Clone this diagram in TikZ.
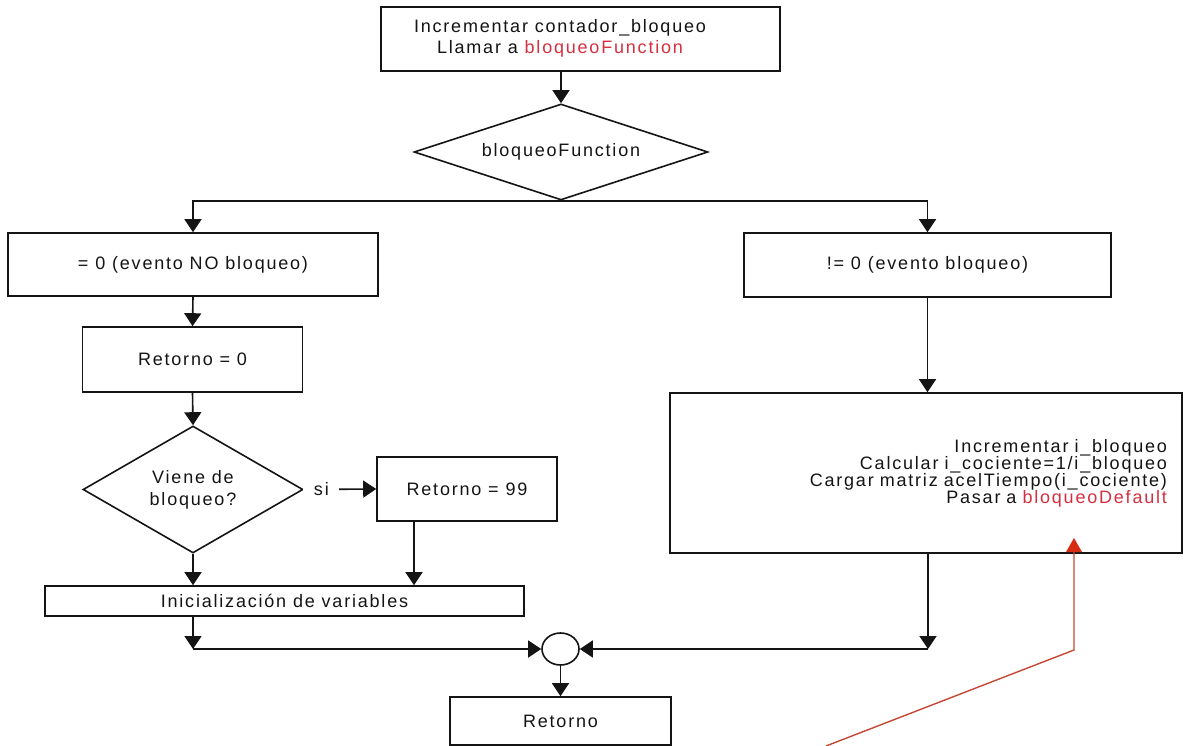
\documentclass[tikz,border=0pt]{standalone}
\usepackage{fontspec}
\setmainfont{Liberation Sans}[LetterSpace=10]
\usetikzlibrary{shapes.geometric,arrows.meta}
\definecolor{ink}{RGB}{20,20,20}
\definecolor{fnred}{RGB}{214,48,64}
\definecolor{notered}{RGB}{196,72,52}
\definecolor{notetip}{RGB}{214,44,20}
\begin{document}
\begin{tikzpicture}[x=1pt,y=-1pt,
  every node/.style={font=\fontsize{18}{18}\selectfont, text=ink},
  box/.style={draw=ink, line width=1.6pt, rectangle, inner sep=0pt, fill=white},
  dia/.style={draw=ink, line width=1.6pt, diamond, inner sep=0pt, align=center},
  arr/.style={draw=ink, line width=1.6pt, -{Triangle[length=13pt,width=17pt]}},
  txt/.style={align=center, inner sep=0pt},
  fn/.style={text=fnred}]
\useasboundingbox (0,0) rectangle (1184,746);

% top process box and its caption
\node[box, minimum width=399, minimum height=64] (top) at (580.5,39) {};
\node[txt, font=\fontsize{18}{21}\selectfont] (toptxt) at (560,38)
  {Incrementar contador\_bloqueo\\Llamar a \textcolor{fnred}{bloqueoFunction}};

% first decision
\node[dia, minimum width=294, minimum height=96, aspect=3] (d1) at (561,152) {bloqueoFunction};

% the two outcomes
\node[box, minimum width=370, minimum height=63] (b0) at (193,264.5) {= 0 (evento NO bloqueo)};
\node[box, minimum width=367, minimum height=64] (b1) at (927.5,265) {!= 0 (evento bloqueo)};

% left branch
\node[box, minimum width=220, minimum height=65] (r0) at (192.5,359.5) {Retorno = 0};
\node[dia, minimum width=220, minimum height=127, aspect=1.7,
      font=\fontsize{18}{22}\selectfont] (d2) at (193,489.5) {Viene de\\bloqueo?};
\node[box, minimum width=180, minimum height=64] (r99) at (467,489) {Retorno = 99};
\node[box, minimum width=479, minimum height=30] (ini) at (284.5,601) {Inicialización de variables};

% right branch
\node[box, minimum width=512, minimum height=160, text width=482, align=right,
      inner xsep=15pt, font=\fontsize{18}{17}\selectfont] (big) at (926,473)
  {Incrementar i\_bloqueo\\Calcular i\_cociente=1/i\_bloqueo\\Cargar matriz acelTiempo(i\_cociente)\\Pasar a \textcolor{fnred}{bloqueoDefault}};

% merge point and exit
\node[draw=ink, line width=1.6pt, ellipse, minimum width=37, minimum height=32, inner sep=0pt] (join) at (560.5,649) {};
\node[box, minimum width=221, minimum height=48] (ret) at (560.5,721) {Retorno};

% corner points of the merge lines
\coordinate (jl) at (193,649);
\coordinate (jr) at (928,649);
\coordinate (q) at (414,0);

% connectors
\draw[arr] (top.south -| d1.north) -- (d1.north);
\draw[arr] (d1.south) -| (b0.north);
\draw[arr] (d1.south) -| (b1.north);
\draw[arr] (b0.south) -- (r0.north);
\draw[arr] (r0.south) -- (d2.north);
\draw[arr] (d2.east) -- node[pos=0.243, fill=white, inner sep=0pt, minimum width=36, minimum height=20] (si) {si} (r99.west);
\draw[arr] (r99.south -| q) -- (ini.north -| q);
\draw[arr] (d2.south) -- (d2.south |- ini.north);
\draw[arr] (b1.south) -- (b1.south |- big.north);
\draw[arr] (ini.south -| jl) -- (jl);
\draw[arr] (jl) -- (join.west);
\draw[arr] (big.south -| jr) -- (jr);
\draw[arr] (jr) -- (join.east);
\draw[arr] (join.south) -- (ret.north);

% red pointer to bloqueoDefault
\coordinate (rs) at (826,746);
\coordinate (rb) at (1074,650);
\coordinate (rh) at (1074,550);
\coordinate (rt) at (1074,538);
\draw[notered, line width=1.4pt] (rs) -- (rb) -- (rh);
\fill[notetip] (rt) -- ++(-8,14) -- ++(16,0) -- cycle;
\end{tikzpicture}
\end{document}
